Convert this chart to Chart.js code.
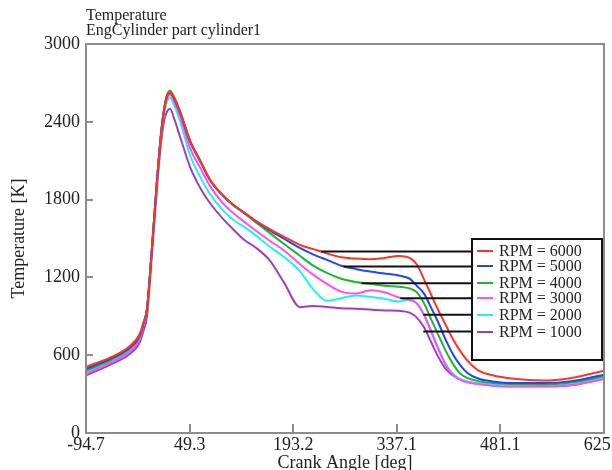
<!DOCTYPE html>
<html>
<head>
<meta charset="utf-8">
<script src="https://cdn.jsdelivr.net/npm/chart.js@4"></script>
<style>
  html, body { margin: 0; padding: 0; background: #fff; }
  canvas { display: block; }
</style>
</head>
<body>
<canvas id="chart" width="612" height="470"></canvas>
<script>
const crankAngle = [-94.7, -60, -35, -20, -15, -10, -3, 4, 10, 14, 18, 22, 28, 36, 50, 64, 78, 96, 110, 125, 140, 160, 180, 203, 220, 240, 260, 280, 300, 320, 340, 355, 365, 375, 385, 395, 405, 415, 425, 435, 450, 470, 500, 540, 580, 625.1];

const rpm6000 = [510, 585, 665, 765, 850, 960, 1430, 1950, 2330, 2500, 2600, 2630, 2580, 2475, 2250, 2100, 1950, 1830, 1760, 1700, 1640, 1575, 1515, 1450, 1420, 1385, 1355, 1345, 1340, 1350, 1365, 1350, 1300, 1185, 1065, 945, 835, 725, 635, 560, 485, 445, 418, 405, 425, 480];
const rpm5000 = [495, 575, 655, 755, 845, 955, 1430, 1950, 2330, 2500, 2600, 2625, 2575, 2470, 2245, 2095, 1945, 1830, 1760, 1700, 1640, 1565, 1500, 1425, 1380, 1335, 1290, 1265, 1245, 1230, 1215, 1190, 1135, 1075, 965, 850, 720, 610, 525, 465, 420, 398, 385, 385, 400, 450];
const rpm4000 = [480, 565, 645, 745, 840, 955, 1430, 1955, 2335, 2510, 2610, 2640, 2590, 2485, 2255, 2100, 1950, 1825, 1755, 1695, 1630, 1545, 1460, 1365, 1295, 1235, 1190, 1165, 1150, 1135, 1128, 1115, 1085, 1000, 875, 755, 635, 535, 460, 425, 400, 385, 378, 375, 390, 435];
const rpm3000 = [455, 545, 625, 725, 825, 945, 1425, 1945, 2320, 2490, 2585, 2610, 2555, 2445, 2195, 2045, 1900, 1770, 1695, 1630, 1565, 1485, 1410, 1300, 1225, 1150, 1090, 1075, 1100, 1085, 1045, 1025, 1000, 910, 780, 645, 525, 450, 412, 392, 378, 365, 358, 358, 370, 415];
const rpm2000 = [465, 555, 635, 735, 830, 950, 1425, 1940, 2310, 2470, 2560, 2590, 2525, 2405, 2140, 1975, 1840, 1715, 1645, 1590, 1530, 1440, 1360, 1245, 1115, 1020, 1040, 1060, 1050, 1035, 1015, 1030, 1000, 915, 790, 655, 535, 458, 418, 398, 383, 372, 366, 365, 375, 420];
const rpm1000 = [445, 530, 605, 700, 785, 895, 1385, 1890, 2260, 2410, 2480, 2500, 2420, 2285, 2050, 1890, 1770, 1650, 1570, 1490, 1435, 1335, 1165, 970, 980, 972, 962, 958, 952, 945, 942, 928, 890, 815, 700, 585, 495, 445, 413, 395, 380, 368, 360, 360, 368, 420];

const seriesValues = [rpm6000, rpm5000, rpm4000, rpm3000, rpm2000, rpm1000];
const rpmLabels = ["RPM = 6000", "RPM = 5000", "RPM = 4000", "RPM = 3000", "RPM = 2000", "RPM = 1000"];
const rpmColors = ["#ff3322", "#2244f4", "#1fb52c", "#ff4cff", "#1ff2f2", "#9b3fc4"];

const xTicks = [-94.7, 49.3, 193.2, 337.1, 481.1, 625.1];
const yTicks = [0, 600, 1200, 1800, 2400, 3000];

// leader lines from each curve to its legend row
const leaderStart = [232, 263, 288, 342, 374, 374];
const leaderLevel = [1400, 1285, 1155, 1040, 912, 782];
const leaderEnd = 455;

const serif = "'Liberation Serif', 'Times New Roman', serif";
const textColor = "#222";

const curveSets = seriesValues.map((vals, i) => ({
  label: rpmLabels[i],
  data: crankAngle.map((a, k) => ({ x: a, y: vals[k] })),
  borderColor: rpmColors[i],
  borderWidth: 2,
  pointRadius: 0,
  cubicInterpolationMode: "monotone",
  order: 0
}));

const leaderSets = leaderLevel.map((lvl, i) => ({
  label: "leader" + i,
  data: [{ x: leaderStart[i], y: lvl }, { x: leaderEnd, y: lvl }],
  borderColor: "#111",
  borderWidth: 2,
  pointRadius: 0,
  order: -1
}));

const decor = {
  id: "decor",
  afterDatasetsDraw(chart) {
    const { ctx, chartArea: a, scales: { x, y } } = chart;
    ctx.save();

    // plot frame + inward ticks
    ctx.strokeStyle = "#8c8c8c";
    ctx.lineWidth = 2;
    ctx.strokeRect(a.left, a.top, a.right - a.left, a.bottom - a.top);
    ctx.beginPath();
    xTicks.forEach(v => {
      const px = Math.round(x.getPixelForValue(v));
      ctx.moveTo(px, a.bottom);
      ctx.lineTo(px, a.bottom - 9);
    });
    yTicks.forEach(v => {
      const py = Math.round(y.getPixelForValue(v));
      ctx.moveTo(a.left, py);
      ctx.lineTo(a.left + 7, py);
    });
    ctx.stroke();

    // legend box
    const rowY = leaderLevel.map(v => Math.round(y.getPixelForValue(v)));
    const boxL = a.right - 132, boxR = a.right - 2;
    const boxT = rowY[0] - 12, boxB = rowY[rowY.length - 1] + 28;
    ctx.fillStyle = "#fff";
    ctx.fillRect(boxL, boxT, boxR - boxL, boxB - boxT);
    ctx.strokeStyle = "#111";
    ctx.lineWidth = 2;
    ctx.strokeRect(boxL, boxT, boxR - boxL, boxB - boxT);
    ctx.font = "16px " + serif;
    ctx.textBaseline = "middle";
    ctx.textAlign = "left";
    rpmLabels.forEach((lab, i) => {
      ctx.strokeStyle = rpmColors[i];
      ctx.beginPath();
      ctx.moveTo(boxL + 5, rowY[i]);
      ctx.lineTo(boxL + 21, rowY[i]);
      ctx.stroke();
      ctx.fillStyle = textColor;
      ctx.fillText(lab, boxL + 27, rowY[i] + 1);
    });

    // title lines
    ctx.font = "16px " + serif;
    ctx.fillStyle = textColor;
    ctx.fillText("Temperature", a.left, 16);
    ctx.fillText("EngCylinder part cylinder1", a.left, 31);
    ctx.restore();
  }
};

new Chart(document.getElementById("chart"), {
  type: "line",
  data: { datasets: [...curveSets, ...leaderSets] },
  options: {
    responsive: false,
    animation: false,
    devicePixelRatio: 1,
    layout: { padding: { top: 44, right: 8, left: 0, bottom: 0 } },
    plugins: { legend: { display: false }, tooltip: { enabled: false }, title: { display: false } },
    scales: {
      x: {
        type: "linear",
        min: -94.7,
        max: 625.1,
        afterBuildTicks: s => { s.ticks = xTicks.map(v => ({ value: v })); },
        afterFit: s => { s.height = 37; s.paddingLeft = 0; s.paddingRight = 0; },
        ticks: {
          autoSkip: false, maxRotation: 0, padding: 1,
          color: textColor, font: { family: serif, size: 18 },
          callback: v => v.toFixed(1)
        },
        grid: { display: false, drawTicks: false },
        border: { display: false },
        title: {
          display: true, text: "Crank Angle [deg]", color: textColor,
          font: { family: serif, size: 18 }, padding: { top: 0, bottom: -4 }
        }
      },
      y: {
        min: 0,
        max: 3000,
        afterBuildTicks: s => { s.ticks = yTicks.map(v => ({ value: v })); },
        afterFit: s => { s.width = 86; s.paddingTop = 0; s.paddingBottom = 0; },
        ticks: {
          padding: 6, color: textColor, font: { family: serif, size: 18 },
          callback: v => String(v)
        },
        grid: { display: false, drawTicks: false },
        border: { display: false },
        title: {
          display: true, text: "Temperature [K]", color: textColor,
          font: { family: serif, size: 18 }, padding: { top: 8, bottom: 0 }
        }
      }
    }
  },
  plugins: [decor]
});
</script>
</body>
</html>
